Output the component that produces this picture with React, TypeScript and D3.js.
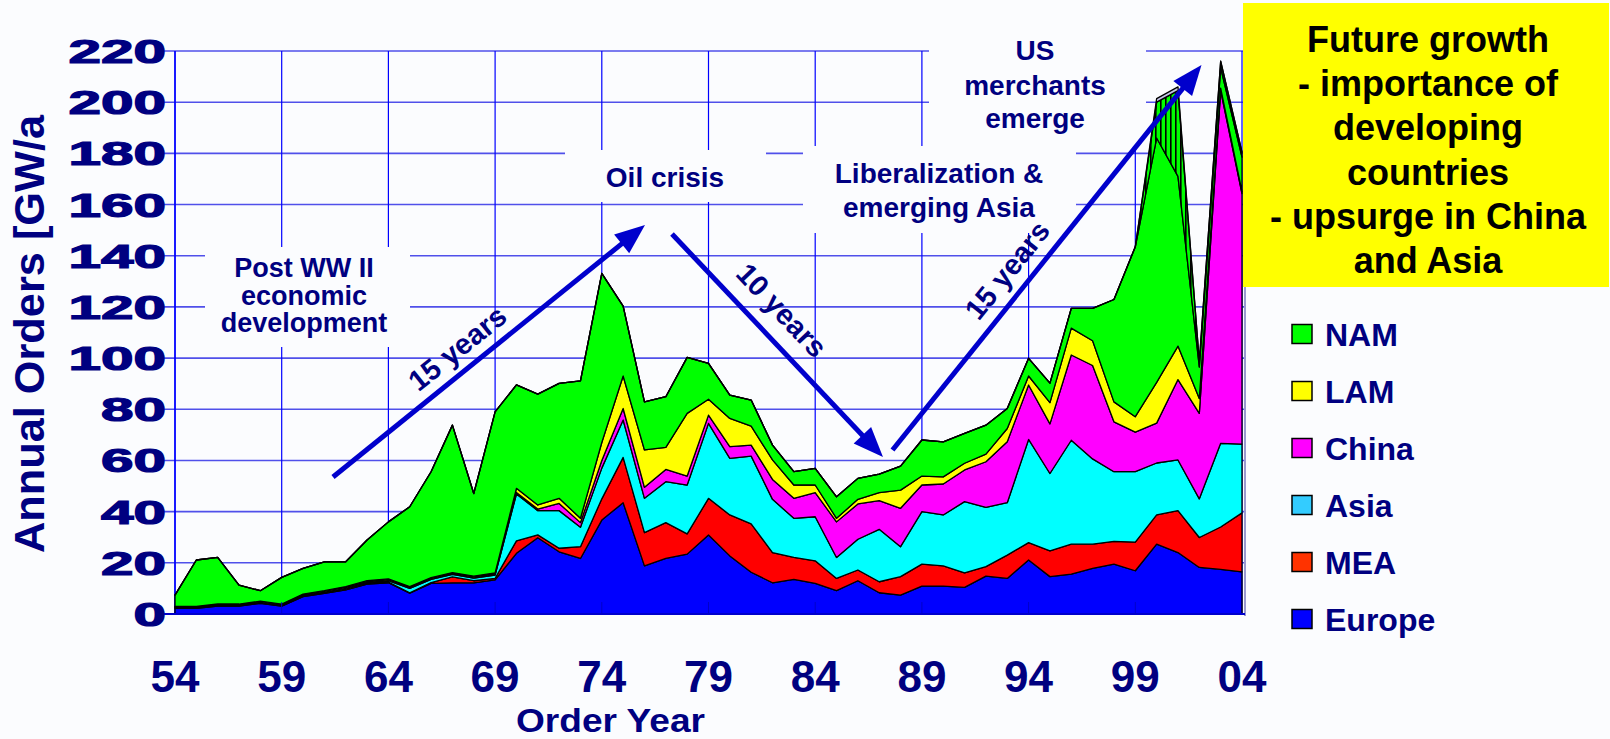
import React from "react";
import * as d3 from "d3";

// order years 1954..2004
const years = [
  1954, 1955, 1956, 1957, 1958, 1959, 1960, 1961, 1962, 1963, 1964, 1965, 1966,
  1967, 1968, 1969, 1970, 1971, 1972, 1973, 1974, 1975, 1976, 1977, 1978, 1979,
  1980, 1981, 1982, 1983, 1984, 1985, 1986, 1987, 1988, 1989, 1990, 1991, 1992,
  1993, 1994, 1995, 1996, 1997, 1998, 1999, 2000, 2001, 2002, 2003, 2004,
];

// annual orders, GW/a
const europe = [
  2.2, 2.2, 3.1, 3.1, 4.2, 3.1, 6.8, 8.1, 9.4, 11.7, 12.2, 8.1, 12.0, 12.2, 12.2,
  13.3, 23.7, 29.8, 24.3, 21.7, 36.7, 43.5, 18.8, 21.7, 23.4, 30.9, 22.7, 16.3,
  12.2, 13.5, 12.0, 9.1, 13.0, 8.3, 7.4, 10.9, 10.9, 10.4, 14.8, 13.9, 21.1,
  14.6, 15.6, 17.8, 19.5, 16.9, 27.3, 24.0, 18.2, 17.4, 16.5,
];
const mea = [
  0.2, 0.2, 0.2, 0.2, 0.2, 0.2, 0.2, 0.2, 0.2, 0.2, 0.3, 0.2, 0.3, 2.3, 0.8, 0.6,
  4.9, 1.1, 1.4, 4.6, 8.3, 17.7, 13.0, 14.0, 7.9, 14.3, 16.0, 18.9, 11.8, 8.6,
  8.8, 4.8, 4.2, 4.3, 7.2, 8.6, 7.9, 5.7, 3.7, 9.1, 6.8, 10.1, 11.7, 9.5, 8.9,
  11.2, 11.4, 16.4, 11.7, 16.6, 23.0,
];
const asia = [
  0.2, 0.2, 0.2, 0.2, 0.2, 0.2, 0.3, 0.3, 0.4, 0.4, 0.5, 1.7, 1.2, 1.0, 1.0, 1.3,
  18.3, 9.5, 14.7, 7.6, 12.0, 14.6, 13.4, 16.0, 19.1, 29.3, 22.1, 26.5, 20.8,
  15.3, 17.2, 8.2, 12.0, 20.5, 11.7, 20.5, 19.9, 27.8, 23.2, 20.5, 40.3, 30.2,
  40.6, 33.3, 27.2, 27.5, 20.3, 19.8, 15.1, 32.7, 26.9,
];
const china = [
  0.2, 0.2, 0.2, 0.2, 0.2, 0.2, 0.2, 0.2, 0.3, 0.3, 0.3, 0.3, 0.3, 0.3, 0.4, 0.4,
  0.6, 0.6, 2.8, 1.8, 3.0, 4.5, 4.3, 4.8, 3.5, 3.2, 4.6, 4.3, 7.8, 7.8, 9.4, 13.9,
  13.8, 11.2, 15.0, 10.4, 12.1, 12.4, 17.8, 23.8, 21.3, 19.4, 33.3, 36.5, 19.5,
  15.5, 15.6, 31.4, 33.4, 137.8, 97.9,
];
const lam = [
  0.2, 0.2, 0.2, 0.2, 0.2, 0.2, 0.3, 0.3, 0.4, 0.4, 0.4, 0.4, 0.4, 0.4, 0.4, 0.5,
  1.6, 1.6, 2.0, 1.7, 7.0, 12.7, 14.6, 8.6, 24.5, 6.2, 11.0, 7.4, 7.6, 5.2, 3.0,
  1.4, 1.8, 3.1, 7.1, 3.5, 2.8, 2.6, 3.0, 5.2, 3.5, 8.3, 10.5, 9.7, 7.8, 6.0,
  15.9, 13.1, 5.8, 1.0, 0.7,
];
const nam = [
  4.4, 18.1, 18.2, 7.4, 4.1, 10.4, 10.0, 11.3, 9.7, 15.9, 22.3, 31.2, 41.4, 57.6,
  32.3, 62.9, 40.4, 43.3, 44.9, 53.7, 66.1, 27.3, 18.8, 19.8, 21.9, 14.0, 9.1,
  10.2, 5.8, 5.2, 6.5, 8.4, 8.2, 7.3, 9.4, 14.1, 13.7, 11.7, 11.3, 7.8, 6.9, 7.6,
  7.7, 12.6, 40.0, 66.4, 95.5, 66.3, 12.3, 8.0, 13.5,
];
// unlabelled hatched band (US merchants) and thin grey band on top
const namMerchant = [
  0, 0, 0, 0, 0, 0, 0, 0, 0, 0, 0, 0, 0, 0, 0, 0, 0, 0, 0, 0, 0, 0, 0, 0, 0, 0,
  0, 0, 0, 0, 0, 0, 0, 0, 0, 0, 0, 0, 0, 0, 0, 0, 0, 0, 0, 0, 14.0, 33.5, 2.1,
  2.5, 2.0,
];
const other = [
  0, 0, 0, 0, 0, 0, 0, 0, 0, 0, 0, 0, 0, 0, 0, 0, 0, 0, 0, 0, 0, 0, 0, 0, 0, 0,
  0, 0, 0, 0, 0, 0, 0, 0, 0, 0, 0, 0, 0, 0, 0, 0, 0, 0, 0, 0, 1.4, 1.5, 0, 0, 0,
];

const seriesKeys = ["Europe", "MEA", "Asia", "China", "LAM", "NAM", "Merchant", "Other"];
const seriesValues = [europe, mea, asia, china, lam, nam, namMerchant, other];
const areaFill: Record<string, string> = {
  Europe: "#0000ff",
  MEA: "#ff0000",
  Asia: "#00ffff",
  China: "#ff00ff",
  LAM: "#ffff00",
  NAM: "#00ff00",
  Merchant: "url(#hatch)",
  Other: "#c4c4e6",
};

const legendNames = ["NAM", "LAM", "China", "Asia", "MEA", "Europe"];
const legendColors = ["#00ff00", "#ffff00", "#ff00ff", "#33ccff", "#ff3300", "#0000ff"];

const yTicks = [0, 20, 40, 60, 80, 100, 120, 140, 160, 180, 200, 220];
const xTickYears = [1954, 1959, 1964, 1969, 1974, 1979, 1984, 1989, 1994, 1999, 2004];
const xTickLabels = ["54", "59", "64", "69", "74", "79", "84", "89", "94", "99", "04"];

const futureLines = [
  "Future growth",
  "- importance of",
  "developing",
  "countries",
  "- upsurge in China",
  "and Asia",
];

const NAVY = "#000080";
const ARROW = "#0000cc";
const FONT = "'Liberation Sans', Arial, Helvetica, sans-serif";

const x = d3.scaleLinear().domain([1954, 2004]).range([175, 1242]);
const y = d3.scaleLinear().domain([0, 220]).range([614, 51]);

function Arrow({ x1, y1, x2, y2 }: { x1: number; y1: number; x2: number; y2: number }) {
  const a = Math.atan2(y2 - y1, x2 - x1);
  const len = 30;
  const hw = 12;
  const bx = x2 - len * Math.cos(a);
  const by = y2 - len * Math.sin(a);
  const px = -Math.sin(a) * hw;
  const py = Math.cos(a) * hw;
  return (
    <g>
      <line x1={x1} y1={y1} x2={bx + 2 * Math.cos(a)} y2={by + 2 * Math.sin(a)} stroke={ARROW} strokeWidth={5} />
      <polygon points={`${x2},${y2} ${bx + px},${by + py} ${bx - px},${by - py}`} fill={ARROW} />
    </g>
  );
}

export default function App() {
  const rows = years.map((yr, i) => {
    const r: Record<string, number> = { year: yr };
    seriesKeys.forEach((k, j) => (r[k] = seriesValues[j][i]));
    return r;
  });
  const stacked = d3.stack<Record<string, number>>().keys(seriesKeys)(rows);
  const area = d3
    .area<d3.SeriesPoint<Record<string, number>>>()
    .x((d) => x(d.data.year))
    .y0((d) => y(d[0]))
    .y1((d) => y(d[1]));

  const x0 = x(1954);
  const x1 = x(2004);

  return (
    <div style={{ position: "fixed", left: 0, top: 0 }}>
      <svg width={1610} height={739} style={{ display: "block", background: "#fbfcfe", fontFamily: FONT }}>
        <defs>
          <pattern id="hatch" width={5} height={10} patternUnits="userSpaceOnUse">
            <rect width={5} height={10} fill="#00ff00" />
            <rect x={0} width={1.6} height={10} fill="#000" />
          </pattern>
        </defs>

        {/* grid */}
        {yTicks.map((t) => (
          <line key={"h" + t} x1={163} x2={x1 + 3} y1={y(t)} y2={y(t)} stroke="#5050ea" strokeWidth={1.6} />
        ))}
        {xTickYears.map((t) => (
          <line key={"v" + t} x1={x(t)} x2={x(t)} y1={y(220)} y2={y(0)} stroke="#0000ff" strokeWidth={1.2} />
        ))}
        <line x1={x0} x2={x0} y1={y(220)} y2={y(0)} stroke="#0000ff" strokeWidth={1.5} />
        <line x1={x1 + 3} x2={x1 + 3} y1={y(220)} y2={y(0) + 2} stroke="#9a9ad0" strokeWidth={2} />

        {/* annotation boxes hide the grid */}
        <rect x={205} y={247} width={205} height={100} fill="#fbfcfe" />
        <rect x={565} y={150} width={201} height={52} fill="#fbfcfe" />
        <rect x={803} y={146} width={273} height={87} fill="#fbfcfe" />
        <rect x={929} y={0} width={217} height={150} fill="#fbfcfe" />

        {/* stacked areas */}
        {stacked.map((s) => (
          <path key={s.key} d={area(s) || ""} fill={areaFill[s.key]} stroke="#000" strokeWidth={1.3} strokeLinejoin="round" />
        ))}

        {/* axis line and inner ticks */}
        <line x1={163} x2={x1 + 3} y1={y(0)} y2={y(0)} stroke="#0000cc" strokeWidth={2} />
        {xTickYears.slice(1, -1).map((t) => (
          <line key={"t" + t} x1={x(t)} x2={x(t)} y1={y(0)} y2={y(0) - 12} stroke="#0000c8" strokeWidth={1} />
        ))}

        {/* y tick labels, wide heavy digits as in the slide */}
        {yTicks.map((t) => {
          const s = String(t);
          return (
            <text
              key={"yl" + t}
              x={166}
              y={y(t) + 12}
              textAnchor="end"
              fontSize={34}
              fontWeight="bold"
              fill={NAVY}
              stroke={NAVY}
              strokeWidth={1.2}
              textLength={s.length * 32.5}
              lengthAdjust="spacingAndGlyphs"
            >
              {s}
            </text>
          );
        })}
        {/* x tick labels */}
        {xTickYears.map((t, i) => (
          <text key={"xl" + t} x={x(t)} y={692} textAnchor="middle" fontSize={44} fontWeight="bold" fill={NAVY}>
            {xTickLabels[i]}
          </text>
        ))}
        <text
          x={516}
          y={732}
          fontSize={34}
          fontWeight="bold"
          fill={NAVY}
          textLength={189}
          lengthAdjust="spacingAndGlyphs"
        >
          Order Year
        </text>
        <text
          transform="translate(44,334) rotate(-90)"
          textAnchor="middle"
          fontSize={42}
          fontWeight="bold"
          fill={NAVY}
          textLength={438}
          lengthAdjust="spacingAndGlyphs"
        >
          Annual Orders [GW/a
        </text>

        {/* annotations */}
        <g fontWeight="bold" fill={NAVY} textAnchor="middle" fontSize={28}>
          <text x={304} y={277} fontSize={27}>Post WW II</text>
          <text x={304} y={305} fontSize={27}>economic</text>
          <text x={304} y={332} fontSize={27}>development</text>
          <text x={665} y={187}>Oil crisis</text>
          <text x={939} y={183}>Liberalization &amp;</text>
          <text x={939} y={217}>emerging Asia</text>
          <text x={1035} y={60}>US</text>
          <text x={1035} y={95}>merchants</text>
          <text x={1035} y={128}>emerge</text>
        </g>

        <Arrow x1={333} y1={477} x2={645} y2={225} />
        <Arrow x1={672} y1={234} x2={883} y2={457} />
        <Arrow x1={892.5} y1={450} x2={1201.5} y2={65} />
        <g fontWeight="bold" fill={NAVY} textAnchor="middle" fontSize={29}>
          <text transform="translate(457,348) rotate(-38.9)" dy="0.36em">15 years</text>
          <text transform="translate(782,310) rotate(46.6)" dy="0.36em">10 years</text>
          <text transform="translate(1007,270) rotate(-51.3)" dy="0.36em">15 years</text>
        </g>

        {/* future growth box */}
        <rect x={1243} y={3} width={366} height={284} fill="#ffff00" />
        {futureLines.map((l, i) => (
          <text key={l} x={1428} y={52 + i * 44.2} textAnchor="middle" fontSize={36} fontWeight="bold" fill="#000">
            {l}
          </text>
        ))}

        {/* legend */}
        {legendNames.map((n, i) => (
          <g key={n} transform={`translate(0,${334 + i * 57})`}>
            <rect x={1292} y={-9.5} width={20} height={19} fill={legendColors[i]} stroke="#000" strokeWidth={1.5} />
            <text x={1325} y={11.5} fontSize={32} fontWeight="bold" fill={NAVY}>
              {n}
            </text>
          </g>
        ))}
      </svg>
    </div>
  );
}
